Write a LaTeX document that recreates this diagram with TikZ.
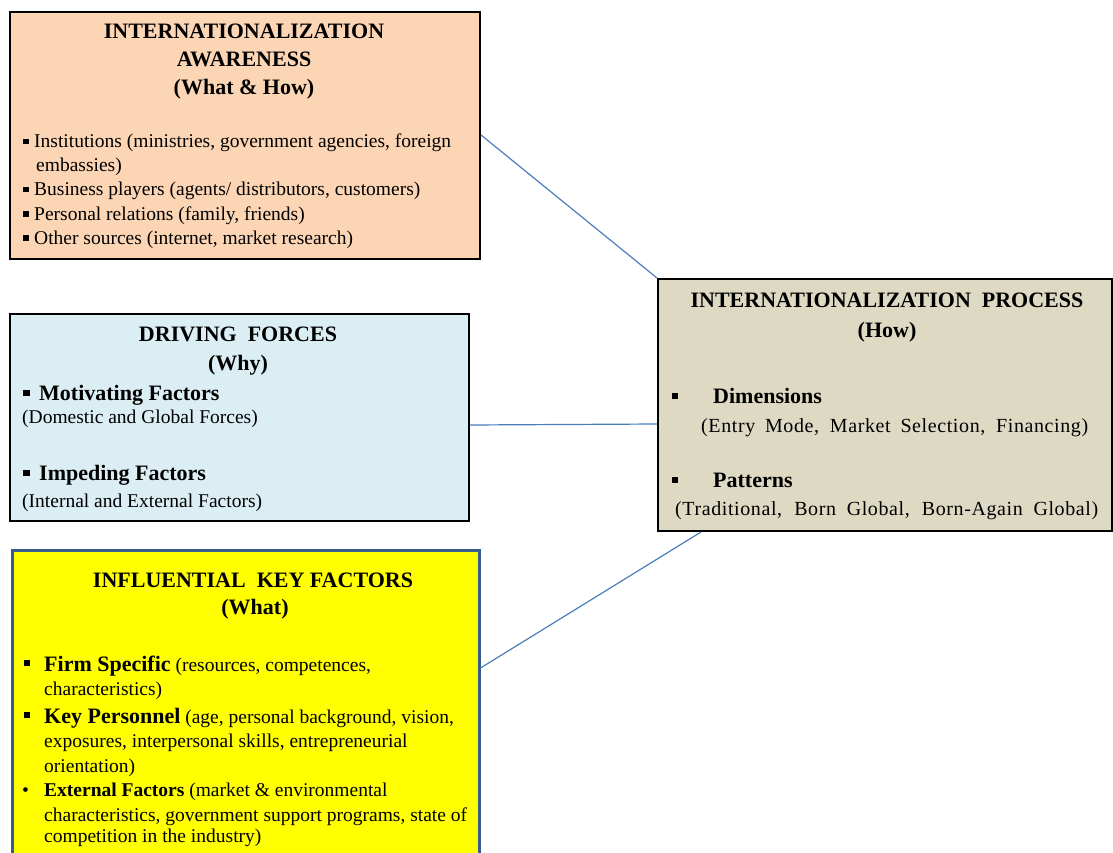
\documentclass[tikz,border=0pt]{standalone}
\usepackage{fontspec}
\setmainfont{Liberation Serif}
\usetikzlibrary{calc}

\definecolor{awarefill}{HTML}{FCD5B5}
\definecolor{drivefill}{HTML}{DBEEF4}
\definecolor{keyfill}{HTML}{FFFF00}
\definecolor{keyedge}{HTML}{385D8A}
\definecolor{procfill}{HTML}{DDD9C3}
\definecolor{linkblue}{HTML}{4A7EBB}

\newcommand{\ftitle}{\fontsize{22}{26}\selectfont\bfseries}
\newcommand{\fhead}{\fontsize{22}{26}\selectfont\bfseries}
\newcommand{\fbody}{\fontsize{19.5}{23}\selectfont}
\newcommand{\fproc}{\fontsize{20}{24}\selectfont\addfontfeatures{LetterSpace=3}}
\newcommand{\sqmark}{\rule[3.5pt]{5.5pt}{5.5pt}}

\tikzset{
  box/.style={draw, line width=2pt, inner sep=0pt, anchor=north west},
  txt/.style={inner sep=0pt, anchor=base west},
  ctr/.style={inner sep=0pt, anchor=base},
  link/.style={draw=linkblue, line width=1.2pt},
}

\begin{document}
\begin{tikzpicture}[x=1pt, y=-1pt]
\useasboundingbox (0,0) rectangle (1113,853);
\clip (0,0) rectangle (1113,853);

% ---------- boxes ----------
\node[box, fill=awarefill, minimum width=470pt, minimum height=247pt] (aware) at (9,11) {};
\node[box, fill=drivefill, minimum width=459pt, minimum height=207pt] (drive) at (9,313) {};
\node[box, fill=keyfill, draw=keyedge, line width=2.5pt, minimum width=467pt, minimum height=320pt] (key) at (11,549) {};
\node[box, fill=procfill, minimum width=454pt, minimum height=252pt] (proc) at (657,278) {};

% ---------- connectors ----------
\draw[link] ([yshift=-124pt]aware.north east) -- (proc.north west);
\draw[link] ([yshift=-112pt]drive.north east) -- ([yshift=-146pt]proc.north west);
\draw[link] ([yshift=-119pt]key.north east) -- ([xshift=44pt]proc.south west);

% ---------- awareness ----------
\node[ctr] (aw1) at (244,39) {\ftitle INTERNATIONALIZATION};
\node[ctr] (aw2) at (244,67) {\ftitle AWARENESS};
\node[ctr] (aw3) at (244,95) {\ftitle (What \& How)};
\node[txt] (awb1) at (23,148) {\fbody\sqmark};
\node[txt] (awt1) at (34,148) {\fbody Institutions (ministries, government agencies, foreign};
\node[txt] (awt1b) at (36,172) {\fbody embassies)};
\node[txt] (awb2) at (23,196) {\fbody\sqmark};
\node[txt] (awt2) at (34,196) {\fbody Business players (agents/ distributors, customers)};
\node[txt] (awb3) at (23,220) {\fbody\sqmark};
\node[txt] (awt3) at (34,220) {\fbody Personal relations (family, friends)};
\node[txt] (awb4) at (23,244) {\fbody\sqmark};
\node[txt] (awt4) at (34,244) {\fbody Other sources (internet, market research)};

% ---------- driving forces ----------
\node[ctr] (dr1) at (238,341) {\ftitle DRIVING\ \ FORCES};
\node[ctr] (dr2) at (238,370) {\ftitle (Why)};
\node[txt] (drb1) at (23,400) {\fhead\rule[4pt]{6.5pt}{6.5pt}};
\node[txt] (drt1) at (39,400) {\fhead Motivating Factors};
\node[txt] (drt1b) at (22,423) {\fbody (Domestic and Global Forces)};
\node[txt] (drb2) at (23,480) {\fhead\rule[4pt]{6.5pt}{6.5pt}};
\node[txt] (drt2) at (39,480) {\fhead Impeding Factors};
\node[txt] (drt2b) at (22,507) {\fbody (Internal and External Factors)};

% ---------- influential key factors ----------
\node[ctr] (ky1) at (253,587) {\ftitle INFLUENTIAL\ \ KEY FACTORS};
\node[ctr] (ky2) at (255,614) {\ftitle (What)};
\node[txt] (kyb1) at (24,671) {\fbody\rule[5pt]{6pt}{6pt}};
\node[txt] (kyt1) at (44,671) {\fbody{\fhead Firm Specific}\ (resources, competences,};
\node[txt] (kyt1b) at (44,695) {\fbody characteristics)};
\node[txt] (kyb2) at (24,723) {\fbody\rule[5pt]{6pt}{6pt}};
\node[txt] (kyt2) at (44,723) {\fbody{\fhead Key Personnel}\ (age, personal background, vision,};
\node[txt] (kyt2b) at (44,747) {\fbody exposures, interpersonal skills, entrepreneurial};
\node[txt] (kyt2c) at (44,772) {\fbody orientation)};
\node[txt] (kyb3) at (22,796) {\fbody\textbullet};
\node[txt] (kyt3) at (44,796) {\fbody{\bfseries External Factors} (market \& environmental};
\node[txt] (kyt3b) at (44,821) {\fbody characteristics, government support programs, state of};
\node[txt] (kyt3c) at (44,842) {\fbody competition in the industry)};

% ---------- internationalization process ----------
\node[ctr] (pr1) at (887,307) {\ftitle INTERNATIONALIZATION\ \ PROCESS};
\node[ctr] (pr2) at (887,337) {\ftitle (How)};
\node[txt] (prb1) at (672,403) {\fproc\rule[4pt]{6pt}{6pt}};
\node[txt] (prt1) at (713,403) {\fhead Dimensions};
\node[txt] (prt1b) at (701,432) {\fproc\makebox[387pt][s]{(Entry Mode, Market Selection, Financing)}};
\node[txt] (prb2) at (672,487) {\fproc\rule[4pt]{6pt}{6pt}};
\node[txt] (prt2) at (713,487) {\fhead Patterns};
\node[txt] (prt2b) at (675,515) {\fproc\makebox[423pt][s]{(Traditional, Born Global, Born-Again Global)}};
\end{tikzpicture}
\end{document}
